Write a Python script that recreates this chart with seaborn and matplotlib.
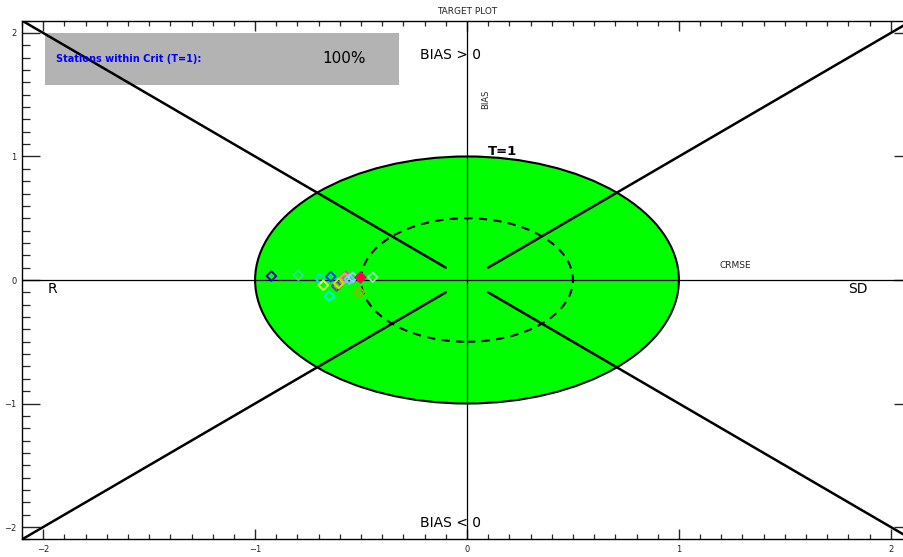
import matplotlib
matplotlib.use('Agg')
import matplotlib.pyplot as plt
from matplotlib.patches import Ellipse, Rectangle
from matplotlib.ticker import MultipleLocator
import pandas as pd
import seaborn as sns

# station values (CRMSE on x, BIAS on y), normalised
crmse = [-0.923, -0.796, -0.693, -0.678, -0.643, -0.649, -0.615, -0.605,
         -0.571, -0.577, -0.555, -0.539, -0.508, -0.445]
bias = [0.032, 0.038, 0.011, -0.043, 0.027, -0.130, -0.049, -0.027,
        0.032, 0.016, 0.006, 0.022, -0.097, 0.022]
stations = ['S01', 'S02', 'S03', 'S04', 'S05', 'S06', 'S07', 'S08',
            'S09', 'S10', 'S11', 'S12', 'S13', 'S14']
station_colors = ['#0000cc', '#33dd99', '#00dddd', '#ccff66', '#0044ff', '#00eeee',
                  '#9922cc', '#dddd00', '#ff33cc', '#ff9966', '#66ccff', '#99ccff',
                  '#aaaa00', '#99ddbb']
# highlighted station (filled red)
hl_crmse = [-0.505]
hl_bias = [0.027]

pct_within = '100%'
crit = 1.0

df = pd.DataFrame({'crmse': crmse, 'bias': bias, 'station': stations})

sns.set_theme(style='white')
plt.rcParams['font.family'] = ['DejaVu Sans']
plt.rcParams['text.color'] = 'black'

fig = plt.figure(figsize=(9.04, 5.57), dpi=100)
# axis runs slightly past the right edge, as in the original
ax = fig.add_axes([22 / 904, 17.6 / 557, 890 / 904, 518.8 / 557])
ax.set_xlim(-2.1, 2.1)
ax.set_ylim(-2.1, 2.1)

# criterion area
ax.add_patch(Ellipse((0, 0), 2 * crit, 2 * crit, facecolor='#00ff00',
                     edgecolor='black', lw=1.5, zorder=1))
ax.add_patch(Ellipse((0, 0), crit, crit, facecolor='none', edgecolor='black',
                     lw=1.5, ls=(0, (4, 3)), zorder=2))

# info box
ax.add_patch(Rectangle((-1.99, 1.58), 1.67, 0.42, facecolor='#b3b3b3',
                       edgecolor='none', zorder=1))

# axes through origin
ax.axhline(0, color='black', lw=0.9, zorder=2)
ax.axvline(0, color='black', lw=0.9, zorder=2)

# diagonals
for sx, sy in [(-1, 1), (1, 1), (-1, -1), (1, -1)]:
    ax.plot([sx * 0.1, sx * 2.1], [sy * 0.1, sy * 2.1], color='black', lw=1.8, zorder=3)

# stations
sns.scatterplot(data=df, x='crmse', y='bias', hue='station', palette=station_colors,
                marker='D', s=24, linewidth=1.4, legend=False, ax=ax, zorder=4)
coll = ax.collections[-1]
cols = coll.get_facecolors()
coll.set_edgecolors(cols)
coll.set_facecolors('none')
sns.scatterplot(x=hl_crmse, y=hl_bias, color='#ff0033', marker='D', s=30,
                edgecolor='#ff0066', linewidth=1.2, legend=False, ax=ax, zorder=5)

# labels
ax.text(-1.94, 1.79, 'Stations within Crit (T=1):', color='#0000ff', fontsize=7,
        fontweight='bold', va='center', zorder=4)
ax.text(-0.58, 1.79, pct_within, color='black', fontsize=11, ha='center', va='center', zorder=4)
ax.text(-0.22, 1.82, 'BIAS > 0', fontsize=10, va='center', color='black', zorder=4)
ax.text(-0.22, -1.97, 'BIAS < 0', fontsize=10, va='center', color='black', zorder=4)
ax.text(0.09, 1.46, 'BIAS', fontsize=6, rotation=90, ha='center', va='center', color='#222222')
ax.text(1.19, 0.12, 'CRMSE', fontsize=6.5, va='center', color='#222222')
ax.text(0.1, 1.04, 'T=1', fontsize=9.5, fontweight='bold', va='center', color='black', zorder=4)
ax.text(-1.98, -0.07, 'R', fontsize=10, va='center', color='black')
ax.text(1.8, -0.07, 'SD', fontsize=10, va='center', color='black')
ax.text(0, 2.17, 'TARGET PLOT', fontsize=6.5, ha='center', va='center', color='#222222')

# ticks, inward on all sides
ax.xaxis.set_major_locator(MultipleLocator(1))
ax.yaxis.set_major_locator(MultipleLocator(1))
ax.xaxis.set_minor_locator(MultipleLocator(0.1))
ax.yaxis.set_minor_locator(MultipleLocator(0.1))
ax.tick_params(axis='x', which='major', direction='in', length=7, width=1, top=True,
               bottom=True, labelsize=6, labelcolor='#222222', pad=4)
ax.tick_params(axis='x', which='minor', direction='in', length=3.5, width=0.9, top=True, bottom=True)
ax.tick_params(axis='y', which='major', direction='in', length=13, width=1, left=True,
               right=True, labelsize=6, labelcolor='#222222', pad=4)
ax.tick_params(axis='y', which='minor', direction='in', length=6, width=0.9, left=True, right=True)
ax.set_xticks([-2, -1, 0, 1, 2])
ax.set_xticklabels(['−2', '−1', '0', '1', '2'])
ax.set_yticks([-2, -1, 0, 1, 2])
ax.set_yticklabels(['−2', '−1', '0', '1', '2'])
ax.set_xlabel('')
ax.set_ylabel('')
for sp in ax.spines.values():
    sp.set_color('black')
    sp.set_linewidth(1.0)

fig.savefig('out.png', dpi=100)
